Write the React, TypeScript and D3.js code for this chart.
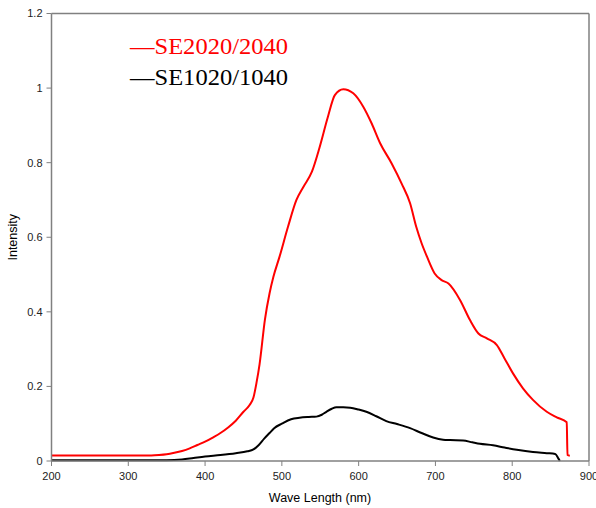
import React from "react";
import * as d3 from "d3";

const redX = [200, 250, 300, 330, 340, 350, 360, 370, 380, 390, 400, 410, 420, 430, 440, 450, 458, 463, 467, 471, 478, 484, 489, 497, 508, 519, 528, 539, 549, 560, 569, 580, 593, 606, 617, 628, 643, 656, 667, 675, 682, 689, 699, 708, 717, 732, 745, 756, 767, 780, 790, 801, 814, 827, 845, 858, 871, 872, 875];
const redY = [0.015, 0.015, 0.015, 0.015, 0.016, 0.018, 0.022, 0.027, 0.034, 0.043, 0.052, 0.063, 0.075, 0.09, 0.108, 0.132, 0.15, 0.17, 0.21, 0.26, 0.38, 0.45, 0.494, 0.548, 0.628, 0.7, 0.735, 0.775, 0.84, 0.923, 0.981, 0.997, 0.986, 0.95, 0.905, 0.852, 0.798, 0.744, 0.691, 0.628, 0.584, 0.548, 0.503, 0.485, 0.476, 0.432, 0.378, 0.342, 0.329, 0.311, 0.275, 0.235, 0.195, 0.164, 0.132, 0.117, 0.104, 0.016, 0.014];

const blackX = [200, 300, 350, 370, 385, 400, 420, 440, 455, 463, 470, 477, 484, 490, 500, 512, 523, 535, 545, 552, 558, 565, 571, 580, 589, 600, 610, 623, 636, 650, 667, 682, 697, 710, 719, 736, 748, 758, 775, 790, 806, 827, 845, 856, 860, 862];
const blackY = [0.002, 0.002, 0.002, 0.004, 0.008, 0.012, 0.016, 0.021, 0.026, 0.031, 0.043, 0.06, 0.075, 0.088, 0.1, 0.112, 0.116, 0.118, 0.119, 0.124, 0.132, 0.14, 0.144, 0.144, 0.143, 0.138, 0.132, 0.12, 0.107, 0.099, 0.088, 0.075, 0.063, 0.057, 0.056, 0.055, 0.05, 0.046, 0.042, 0.036, 0.03, 0.024, 0.021, 0.019, 0.007, 0.0];

const xTicks = [200, 300, 400, 500, 600, 700, 800, 900];
const yTicks = [0, 0.2, 0.4, 0.6, 0.8, 1, 1.2];
const legendLabels = ["\u2014SE2020/2040", "\u2014SE1020/1040"];
const legendColors = ["#ff0000", "#000000"];

export default function App() {
  const W = 596, H = 508;
  const left = 51.5, right = 589, top = 13.5, bottom = 461;
  const x = d3.scaleLinear().domain([200, 900]).range([left, right]);
  const y = d3.scaleLinear().domain([0, 1.2]).range([bottom, top]);
  const line = d3.line<[number, number]>().x(d => x(d[0])).y(d => y(d[1])).curve(d3.curveMonotoneX);
  const redPts = redX.map((v, i) => [v, redY[i]] as [number, number]);
  const blackPts = blackX.map((v, i) => [v, blackY[i]] as [number, number]);
  const axisColor = "#808080";
  const font = "Arial, 'Liberation Sans', sans-serif";
  return (
    <svg width={W} height={H} style={{ position: "absolute", left: 0, top: 0 }}>
      <rect x={0} y={0} width={W} height={H} fill="#fff" />
      <path d={line(redPts) || ""} fill="none" stroke="#ff0000" strokeWidth={2} />
      <path d={line(blackPts) || ""} fill="none" stroke="#000" strokeWidth={2} />
      <line x1={left} x2={right} y1={top} y2={top} stroke={axisColor} strokeWidth={1.5} />
      <line x1={right} x2={right} y1={top} y2={bottom} stroke={axisColor} strokeWidth={1.5} />
      <line x1={left} x2={left} y1={top} y2={bottom} stroke={axisColor} strokeWidth={1.5} />
      <line x1={left} x2={right} y1={bottom} y2={bottom} stroke={axisColor} strokeWidth={1.5} />
      {yTicks.map(t => (
        <g key={"y" + t}>
          <line x1={left - 5} x2={left} y1={y(t)} y2={y(t)} stroke={axisColor} strokeWidth={1} />
          <text x={left - 9} y={y(t)} dy="0.35em" textAnchor="end" fontFamily={font} fontSize={11} fill="#222">{t}</text>
        </g>
      ))}
      {xTicks.map(t => (
        <g key={"x" + t}>
          <line x1={x(t)} x2={x(t)} y1={bottom} y2={bottom + 5} stroke={axisColor} strokeWidth={1} />
          <text x={x(t)} y={bottom + 19} textAnchor="middle" fontFamily={font} fontSize={11} fill="#222">{t}</text>
        </g>
      ))}
      <text x={320} y={502} textAnchor="middle" fontFamily={font} fontSize={12.5} fill="#000">Wave Length (nm)</text>
      <text transform={`translate(17,${(top + bottom) / 2}) rotate(-90)`} textAnchor="middle" fontFamily={font} fontSize={12.5} fill="#000">Intensity</text>
      {legendLabels.map((l, i) => (
        <text key={l} x={130} y={54 + i * 31} fontFamily="'Liberation Serif', 'Times New Roman', serif" fontSize={23.5} fill={legendColors[i]} textLength={158} lengthAdjust="spacingAndGlyphs">{l}</text>
      ))}
    </svg>
  );
}
